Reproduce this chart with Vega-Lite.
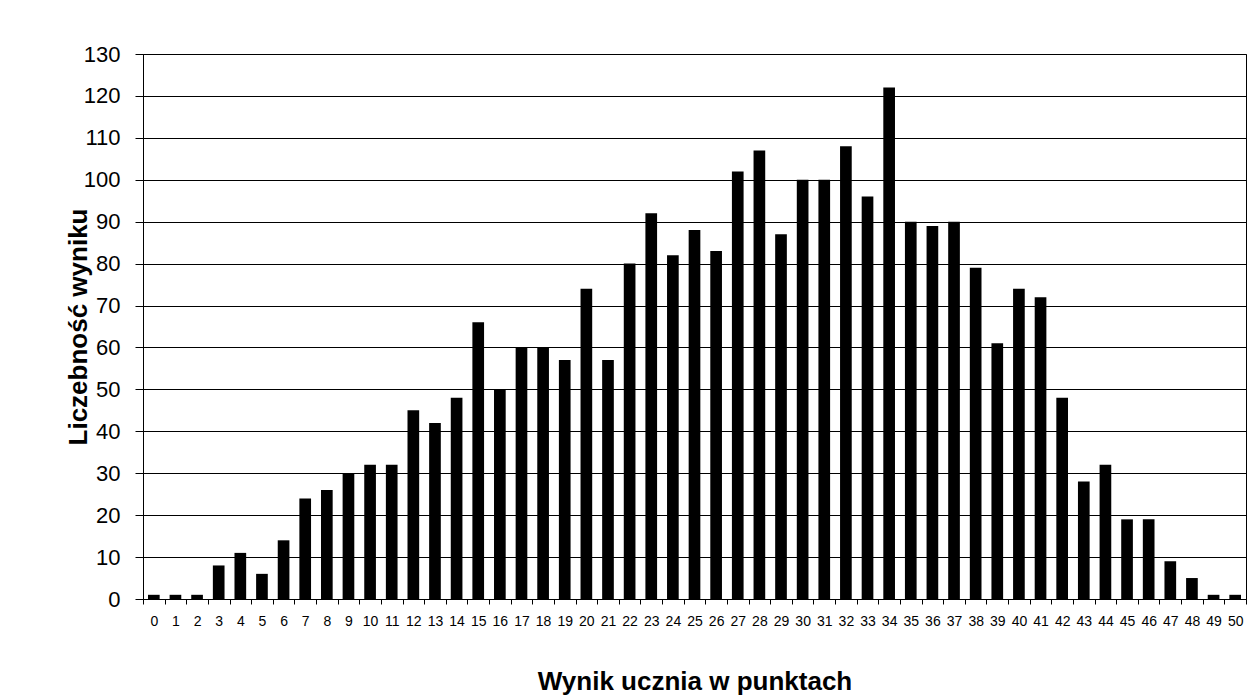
{
  "$schema": "https://vega.github.io/schema/vega-lite/v6.json",
  "width": 1103,
  "height": 545,
  "autosize": {"type": "none"},
  "padding": {"left": 143, "top": 54, "right": 7, "bottom": 101},
  "background": "white",
  "config": {
    "font": "Liberation Sans",
    "view": {"stroke": "black", "strokeWidth": 1}
  },
  "data": {
    "values": [
      {"wynik": 0, "liczba": 1}, {"wynik": 1, "liczba": 1}, {"wynik": 2, "liczba": 1},
      {"wynik": 3, "liczba": 8}, {"wynik": 4, "liczba": 11}, {"wynik": 5, "liczba": 6},
      {"wynik": 6, "liczba": 14}, {"wynik": 7, "liczba": 24}, {"wynik": 8, "liczba": 26},
      {"wynik": 9, "liczba": 30}, {"wynik": 10, "liczba": 32}, {"wynik": 11, "liczba": 32},
      {"wynik": 12, "liczba": 45}, {"wynik": 13, "liczba": 42}, {"wynik": 14, "liczba": 48},
      {"wynik": 15, "liczba": 66}, {"wynik": 16, "liczba": 50}, {"wynik": 17, "liczba": 60},
      {"wynik": 18, "liczba": 60}, {"wynik": 19, "liczba": 57}, {"wynik": 20, "liczba": 74},
      {"wynik": 21, "liczba": 57}, {"wynik": 22, "liczba": 80}, {"wynik": 23, "liczba": 92},
      {"wynik": 24, "liczba": 82}, {"wynik": 25, "liczba": 88}, {"wynik": 26, "liczba": 83},
      {"wynik": 27, "liczba": 102}, {"wynik": 28, "liczba": 107}, {"wynik": 29, "liczba": 87},
      {"wynik": 30, "liczba": 100}, {"wynik": 31, "liczba": 100}, {"wynik": 32, "liczba": 108},
      {"wynik": 33, "liczba": 96}, {"wynik": 34, "liczba": 122}, {"wynik": 35, "liczba": 90},
      {"wynik": 36, "liczba": 89}, {"wynik": 37, "liczba": 90}, {"wynik": 38, "liczba": 79},
      {"wynik": 39, "liczba": 61}, {"wynik": 40, "liczba": 74}, {"wynik": 41, "liczba": 72},
      {"wynik": 42, "liczba": 48}, {"wynik": 43, "liczba": 28}, {"wynik": 44, "liczba": 32},
      {"wynik": 45, "liczba": 19}, {"wynik": 46, "liczba": 19}, {"wynik": 47, "liczba": 9},
      {"wynik": 48, "liczba": 5}, {"wynik": 49, "liczba": 1}, {"wynik": 50, "liczba": 1}
    ]
  },
  "mark": {"type": "bar", "color": "black", "width": {"band": 0.54}},
  "encoding": {
    "x": {
      "field": "wynik",
      "type": "ordinal",
      "sort": "ascending",
      "scale": {"paddingInner": 0, "paddingOuter": 0},
      "axis": {
        "title": "Wynik ucznia w punktach",
        "titleFont": "Liberation Sans",
        "titleFontSize": 26,
        "titleFontWeight": "bold",
        "titleColor": "black",
        "titleY": 90,
        "titleBaseline": "alphabetic",
        "labelAngle": 0,
        "labelFontSize": 14,
        "labelColor": "black",
        "labelPadding": 10,
        "tickBand": "extent",
        "tickSize": 5,
        "tickColor": "black",
        "domainColor": "black",
        "grid": false
      }
    },
    "y": {
      "field": "liczba",
      "type": "quantitative",
      "scale": {"domain": [0, 130], "nice": false},
      "axis": {
        "title": "Liczebność wyniku",
        "titleFont": "Liberation Sans",
        "titleFontSize": 26,
        "titleFontWeight": "bold",
        "titleColor": "black",
        "titleX": -52,
        "values": [0, 10, 20, 30, 40, 50, 60, 70, 80, 90, 100, 110, 120, 130],
        "labelFontSize": 22,
        "labelColor": "black",
        "labelPadding": 15,
        "tickSize": 8,
        "tickColor": "black",
        "domainColor": "black",
        "grid": true,
        "gridColor": "black",
        "gridOpacity": 1,
        "gridWidth": 1
      }
    }
  }
}
